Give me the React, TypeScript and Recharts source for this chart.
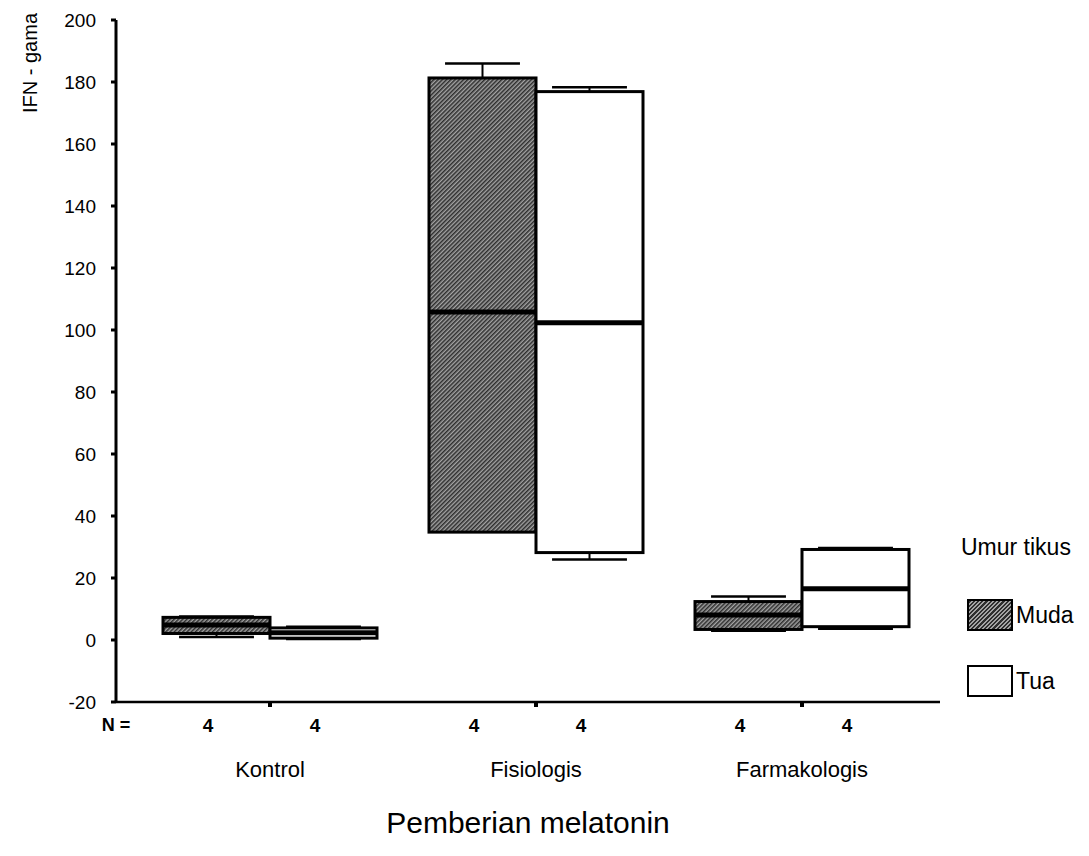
import React from 'react'
import { ComposedChart, Bar, XAxis, YAxis } from 'recharts'

// kelompok pemberian melatonin
const kelompok = ['Kontrol', 'Fisiologis', 'Farmakologis']
const nMuda = [4, 4, 4]
const nTua = [4, 4, 4]

// statistik kotak (IFN - gama), umur Muda
const mudaMin = [1.0, 34.8, 3.0]
const mudaQ1 = [2.1, 34.8, 3.4]
const mudaMedian = [4.8, 105.8, 8.1]
const mudaQ3 = [7.3, 181.3, 12.4]
const mudaMax = [7.6, 186.0, 14.0]

// umur Tua
const tuaMin = [0.3, 26.0, 3.6]
const tuaQ1 = [0.6, 28.2, 4.3]
const tuaMedian = [2.3, 102.3, 16.5]
const tuaQ3 = [3.9, 176.9, 29.2]
const tuaMax = [4.3, 178.3, 29.7]

const yTicks = [-20, 0, 20, 40, 60, 80, 100, 120, 140, 160, 180, 200]

const FONT = '"Liberation Sans", Arial, Helvetica, sans-serif'

const data = kelompok.map((k, i) => ({
  kelompok: k,
  muda: [mudaQ1[i], mudaQ3[i]],
  tua: [tuaQ1[i], tuaQ3[i]],
  mudaStat: { min: mudaMin[i], q1: mudaQ1[i], med: mudaMedian[i], q3: mudaQ3[i], max: mudaMax[i] },
  tuaStat: { min: tuaMin[i], q1: tuaQ1[i], med: tuaMedian[i], q3: tuaQ3[i], max: tuaMax[i] },
  nMuda: nMuda[i],
  nTua: nTua[i],
}))

function makeBoxShape(statKey: 'mudaStat' | 'tuaStat', fill: string) {
  return (props: any) => {
    const { x, y, width, height, payload } = props
    const s = payload[statKey]
    const top = Math.min(y, y + height)
    const h = Math.abs(height)
    const ppu = h / (s.q3 - s.q1)
    const py = (v: number) => top + (s.q3 - v) * ppu
    const cx = x + width / 2
    const cap = width * 0.35
    return (
      <g>
        {s.max > s.q3 && (
          <g stroke="#000">
            <line x1={cx} x2={cx} y1={py(s.max)} y2={top} strokeWidth={2} />
            <line x1={cx - cap} x2={cx + cap} y1={py(s.max)} y2={py(s.max)} strokeWidth={2.5} />
          </g>
        )}
        {s.min < s.q1 && (
          <g stroke="#000">
            <line x1={cx} x2={cx} y1={top + h} y2={py(s.min)} strokeWidth={2} />
            <line x1={cx - cap} x2={cx + cap} y1={py(s.min)} y2={py(s.min)} strokeWidth={2.5} />
          </g>
        )}
        <rect x={x} y={top} width={width} height={h} fill={fill} stroke="#000" strokeWidth={3} />
        <line x1={x} x2={x + width} y1={py(s.med)} y2={py(s.med)} stroke="#000" strokeWidth={5} />
      </g>
    )
  }
}

function KategoriTick(props: any) {
  const { x, y, payload, index } = props
  const row = data[index]
  return (
    <g fontFamily={FONT}>
      {index === 0 && (
        <text x={x - 154} y={y + 18} textAnchor="middle" dominantBaseline="central" fontSize={18} fontWeight="bold" fill="#000">
          N =
        </text>
      )}
      <text x={x - 62} y={y + 18} textAnchor="middle" dominantBaseline="central" fontSize={19} fontWeight="bold" fill="#000">
        {row ? row.nMuda : ''}
      </text>
      <text x={x + 45} y={y + 18} textAnchor="middle" dominantBaseline="central" fontSize={19} fontWeight="bold" fill="#000">
        {row ? row.nTua : ''}
      </text>
      <text x={x} y={y + 62} textAnchor="middle" dominantBaseline="central" fontSize={22} fill="#000">
        {payload.value}
      </text>
    </g>
  )
}

function XJudul(props: any) {
  const vb = props.viewBox || {}
  return (
    <text x={vb.x + vb.width / 2} y={814} textAnchor="middle" dominantBaseline="central" fontSize={30} fill="#000" fontFamily={FONT}>
      Pemberian melatonin
    </text>
  )
}

function YJudul() {
  return (
    <text x={22} y={55} transform="rotate(-90, 22, 55)" textAnchor="middle" dominantBaseline="central" fontSize={20} fill="#000" fontFamily={FONT}>
      IFN - gama
    </text>
  )
}

const legendItems = [
  { name: 'Muda', hatch: true },
  { name: 'Tua', hatch: false },
]

const hatchCss = 'repeating-linear-gradient(-45deg, #2e2e2e 0px, #2e2e2e 1.5px, #a3a3a3 1.5px, #a3a3a3 3px)'

export default function App() {
  return (
    <div style={{ position: 'relative', width: 1073, height: 840, fontFamily: FONT }}>
      <ComposedChart width={1073} height={840} data={data} margin={{ top: 12, right: 141, bottom: 0, left: 0 }} barGap={0}>
        <defs>
          <pattern id="arsirMuda" patternUnits="userSpaceOnUse" width={3} height={3} patternTransform="rotate(45)">
            <rect width={3} height={3} fill="#a3a3a3" />
            <line x1={0.75} x2={0.75} y1={0} y2={3} stroke="#2e2e2e" strokeWidth={1.6} />
          </pattern>
        </defs>
        <XAxis
          dataKey="kelompok"
          padding={{ left: 21, right: 5 }}
          height={146}
          tickSize={5}
          tickMargin={0}
          tickLine={{ stroke: '#000', strokeWidth: 4 }}
          axisLine={{ stroke: '#000', strokeWidth: 2.5 }}
          tick={<KategoriTick />}
          interval={0}
          label={<XJudul />}
        />
        <XAxis
          xAxisId="atas"
          orientation="top"
          dataKey="kelompok"
          height={0}
          tick={false}
          tickLine={false}
          padding={{ left: 21, right: 5 }}
          axisLine={{ stroke: '#000', strokeWidth: 1.5 }}
        />
        <YAxis
          type="number"
          domain={[-20, 200]}
          ticks={yTicks}
          interval={0}
          width={108}
          tickSize={5}
          tickMargin={15}
          tick={{ fill: '#000', fontSize: 19, fontFamily: FONT }}
          tickLine={{ stroke: '#000', strokeWidth: 3 }}
          axisLine={{ stroke: '#000', strokeWidth: 3 }}
          label={<YJudul />}
        />
        <YAxis
          yAxisId="kanan"
          orientation="right"
          type="number"
          domain={[-20, 200]}
          width={0}
          tick={false}
          tickLine={false}
          axisLine={{ stroke: '#000', strokeWidth: 2 }}
        />
        <Bar dataKey="muda" barSize={107} isAnimationActive={false} shape={makeBoxShape('mudaStat', 'url(#arsirMuda)')} />
        <Bar dataKey="tua" barSize={107} isAnimationActive={false} shape={makeBoxShape('tuaStat', '#fff')} />
      </ComposedChart>

      <div style={{ position: 'absolute', left: 953, top: 525, fontSize: 23, lineHeight: '28px', color: '#000' }}>Umur tikus</div>
      {legendItems.map((it, i) => (
        <div
          key={it.name}
          style={{ position: 'absolute', left: 959, top: 591 + i * 66, display: 'flex', alignItems: 'center', fontSize: 23, color: '#000' }}
        >
          <div
            style={{
              width: 46,
              height: 32,
              boxSizing: 'border-box',
              border: '2px solid #000',
              background: it.hatch ? hatchCss : '#fff',
              marginRight: 3,
            }}
          />
          <span>{it.name}</span>
        </div>
      ))}
    </div>
  )
}
